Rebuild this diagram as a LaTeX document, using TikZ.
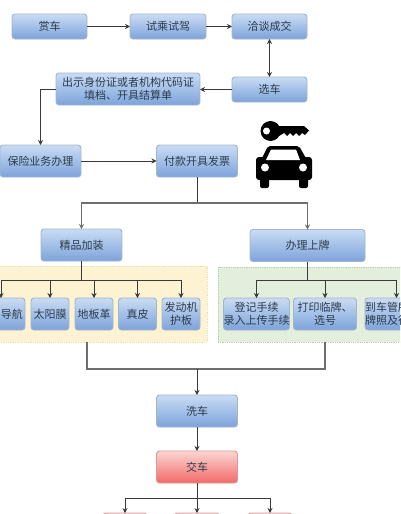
\documentclass[tikz,border=0pt]{standalone}
\usepackage{fontspec}
\setmainfont{Noto Sans CJK SC}
\usepackage{tikz}
\usetikzlibrary{arrows.meta,positioning}
\definecolor{boxline}{HTML}{A3B5CC}
\definecolor{boxtop}{HTML}{C9DCF4}
\definecolor{boxbot}{HTML}{7DA3DA}
\definecolor{redline}{HTML}{D69A98}
\definecolor{redtop}{HTML}{FBD5D3}
\definecolor{redbot}{HTML}{F26A68}
\definecolor{inktext}{HTML}{2B3B4C}
\definecolor{wire}{HTML}{3A3A3A}
\definecolor{busgray}{HTML}{6E6E6E}
\definecolor{yelfill}{HTML}{FDF2D2}
\definecolor{yelline}{HTML}{E9DDB2}
\definecolor{grefill}{HTML}{E4EEDC}
\definecolor{greline}{HTML}{BCCDAE}
\tikzset{
  box/.style={draw=boxline, rounded corners=3pt, align=center, line width=0.9pt,
              top color=boxtop, bottom color=boxbot, inner sep=0pt, outer sep=0pt,
              minimum width=75pt, minimum height=25pt, text=inktext,
              font=\fontsize{11}{13.5}\selectfont},
  bigbox/.style={box, minimum width=81pt, minimum height=32pt},
  subbox/.style={box, minimum width=38pt, minimum height=32pt},
  regbox/.style={box, minimum width=63pt, minimum height=32pt},
  redbox/.style={draw=redline, top color=redtop, bottom color=redbot},
  zone/.style={draw, densely dotted, line width=0.8pt, inner sep=0pt, outer sep=0pt},
  flow/.style={-{Stealth[length=5pt,width=5pt]}, line width=0.9pt, draw=wire},
  link/.style={line width=0.9pt, draw=wire},
  busline/.style={line width=1.1pt, draw=busgray},
}
\begin{document}
\begin{tikzpicture}[x=1pt,y=-1pt,node distance=43pt and 43pt]
  \useasboundingbox (0,0) rectangle (400,514);
  \clip (0,0) rectangle (400,514);
  % top row
  \node[box] (shang) at (49.5,26.5) {赏车};
  \node[box, right=43pt of shang, minimum width=76pt] (shi) {试乘试驾};
  \node[box, right=26pt of shi] (qia) {洽谈成交};
  \node[box, below=38pt of qia] (xuan) {选车};
  \node[box, minimum width=144pt, minimum height=32pt] (chu) at (128,89) {出示身份证或者机构代码证\\填档、开具结算单};
  \node[bigbox] (bao) at (40.5,161) {保险业务办理};
  \node[bigbox] (fu) at (197,161) {付款开具发票};
  % key and car
  \fill[black] (270.5,131) circle (10pt);
  \fill[white] (266.5,131) circle (3.5pt);
  \fill[black] (279,126) -- (304,126) -- (309,130.5) -- (305,135) -- (302,133) -- (299,136)
    -- (296,133) -- (293,136) -- (290,133) -- (287,136) -- (284,133) -- (279,136) -- cycle;
  \fill[black, rounded corners=2pt] (268,146) -- (299,146) -- (307,160) -- (261,160) -- cycle;
  \fill[black, rounded corners=3pt] (256,157) -- (312,157) -- (312,180) -- (256,180) -- cycle;
  \fill[black, rounded corners=2pt] (260,176) -- (269,176) -- (269,188) -- (260,188) -- cycle;
  \fill[black, rounded corners=2pt] (299,176) -- (308,176) -- (308,188) -- (299,188) -- cycle;
  \fill[white] (266,160) -- (271,149.5) -- (296,149.5) -- (300,160) -- cycle;
  \fill[white] (265,167.5) circle (4pt);
  \fill[white] (303,167.5) circle (4pt);
  % second level
  \coordinate (split) at (197,203);
  \node[bigbox] (jing) at (81.5,245) {精品加装};
  \node[bigbox, minimum width=115pt] (ban) at (307.5,245.5) {办理上牌};
  % dotted zones
  \node[zone, draw=yelline, fill=yelfill, minimum width=217pt, minimum height=76pt] (yel) at (98.5,304) {};
  \node[zone, draw=greline, fill=grefill, minimum width=190pt, minimum height=75pt] (gre) at (313,304.5) {};
  % parts
  \node[subbox] (dao) at (6,314) {\hspace*{12pt}导航};
  \node[subbox] (tai) at (50,314) {太阳膜};
  \node[subbox] (di) at (94,314) {地板革};
  \node[subbox] (zhen) at (137.5,314) {真皮};
  \node[subbox] (fa) at (181,314) {发动机\\护板};
  % plates
  \node[regbox] (deng) at (256.5,314) {登记手续\\录入上传手续};
  \node[regbox] (da) at (325,314) {打印临牌、\\选号};
  \node[regbox, text width=63pt, align=left] (che) at (396.5,314) {到车管所\\牌照及行};
  % bottom
  \coordinate (merge) at (197,369);
  \node[bigbox] (xi) at (197,411) {洗车};
  \node[bigbox, redbox] (jiao) at (197,467) {交车};
  \coordinate (fork) at (197,498);
  \node[box, redbox, minimum width=44pt, anchor=north] (ra) at (125,513) {};
  \node[box, redbox, minimum width=45pt, anchor=north] (rb) at (197,513) {};
  \node[box, redbox, minimum width=44pt, anchor=north] (rc) at (270,513) {};
  % connectors
  \draw[flow] (shang) -- (shi);
  \draw[flow] (shi) -- (qia);
  \draw[{Stealth[length=5pt,width=5pt]}-{Stealth[length=5pt,width=5pt]}, link] (qia) -- (xuan);
  \draw[flow] (xuan) -- (chu.east |- xuan);
  \draw[flow] (chu.west) -| (bao.north);
  \draw[flow] (bao) -- (fu);
  \draw[link] (fu.south) -- (split);
  \draw[flow, busline] (split) -| (jing.north);
  \draw[flow, busline] (split) -| (ban.north);
  \coordinate (ybus) at (81.5,280);
  \coordinate (gbus) at (307.5,280);
  \draw[link] (jing.south) -- (ybus);
  \draw[link] (ban.south) -- (gbus);
  \draw[flow] (ybus) -| ([xshift=-5pt]dao.north);
  \draw[flow] (ybus) -| (tai.north);
  \draw[flow] (ybus) -| (di.north);
  \draw[flow] (ybus) -| (zhen.north);
  \draw[flow] (ybus) -| (fa.north);
  \draw[flow] (gbus) -| (deng.north);
  \draw[flow] (gbus) -| (da.north);
  \draw[flow] (gbus) -| (che.north);
  \coordinate (yout) at (87,342);
  \coordinate (gout) at (325,342);
  \draw[busline] (yout) |- (merge);
  \draw[busline] (gout) |- (merge);
  \draw[flow] (merge) -- (xi);
  \draw[flow] (xi) -- (jiao);
  \draw[link] (jiao) -- (fork);
  \draw[flow] (fork) -| (ra.north);
  \draw[flow] (fork) -- (rb.north);
  \draw[flow] (fork) -| (rc.north);
\end{tikzpicture}
\end{document}
